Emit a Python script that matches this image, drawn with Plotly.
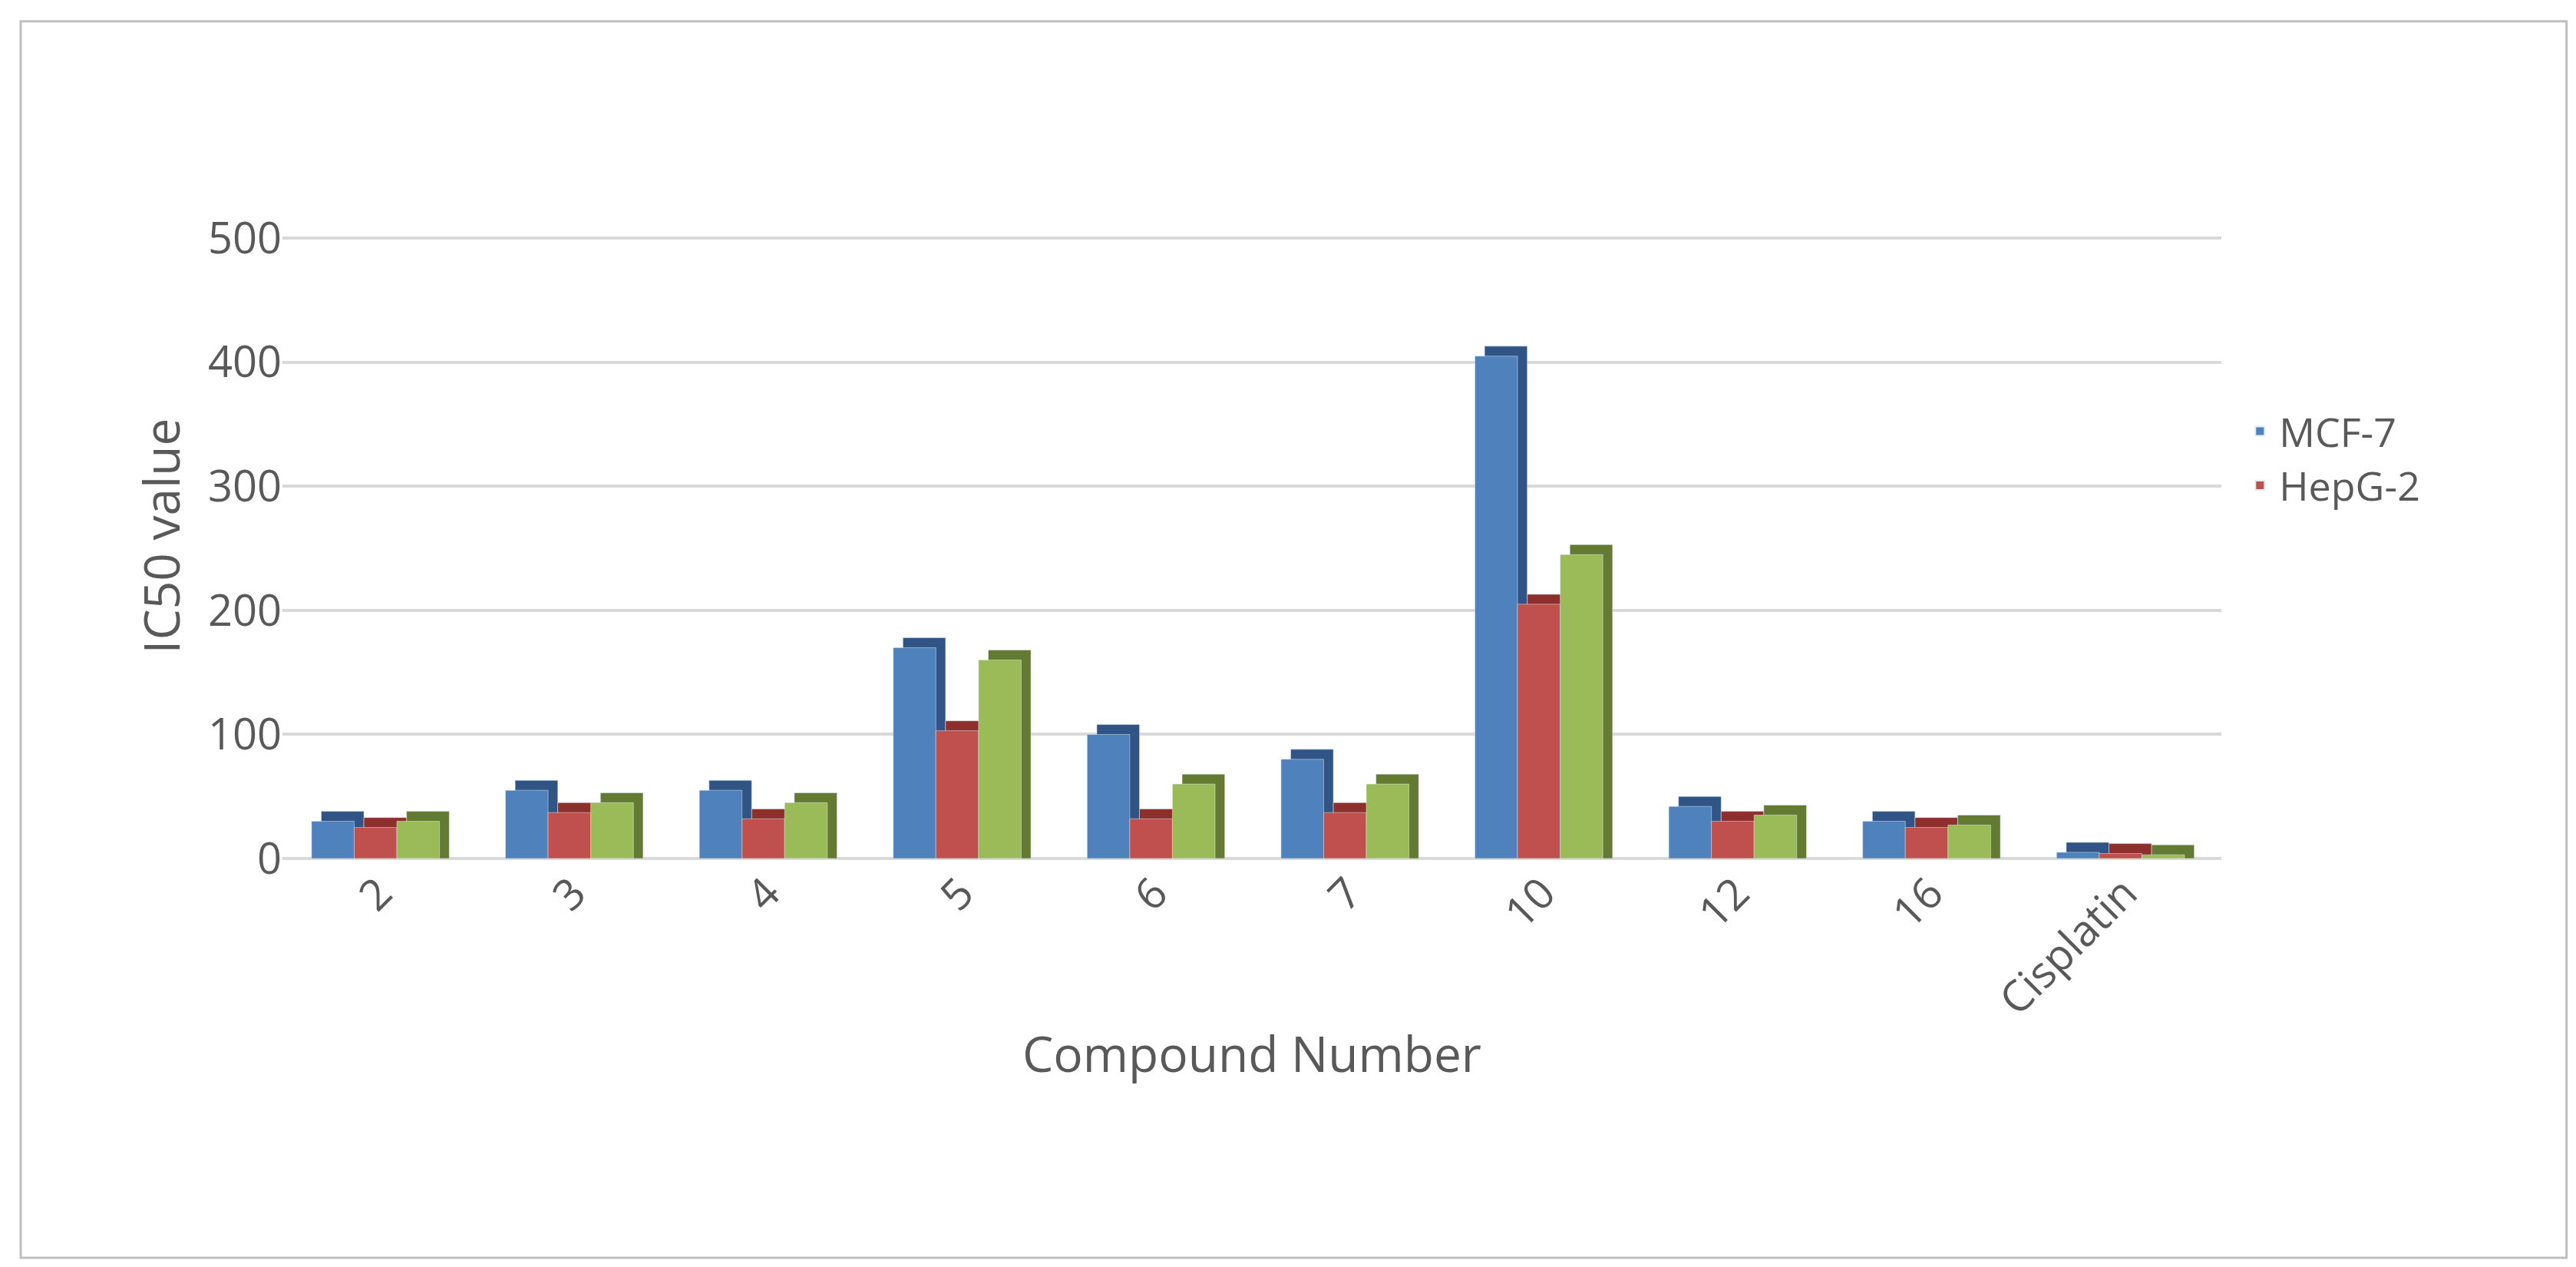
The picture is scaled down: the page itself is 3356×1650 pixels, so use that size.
import plotly.graph_objects as go

compounds = ["2", "3", "4", "5", "6", "7", "10", "12", "16", "Cisplatin"]
mcf7 = [30, 55, 55, 170, 100, 80, 405, 42, 30, 5]
hepg2 = [25, 37, 32, 103, 32, 37, 205, 30, 25, 4]
third = [30, 45, 45, 160, 60, 60, 245, 35, 27, 3]

series = [
    ("MCF-7", mcf7, "#4f81bd", "#2f5485", True),
    ("HepG-2", hepg2, "#c0504d", "#8c2f2d", True),
    ("Series3", third, "#9bbb59", "#637a32", False),
]

x = list(range(len(compounds)))
w = 0.22
offsets = [-0.35, -0.13, 0.09]

fig = go.Figure()
for (name, vals, col, dark, leg), off in zip(series, offsets):
    # darker "depth" bar behind, shifted right and up for a 3D look
    fig.add_trace(go.Bar(x=x, y=[v + 8 for v in vals], offset=off + 0.05, width=w,
                         marker_color=dark, showlegend=False, hoverinfo="skip"))
    fig.add_trace(go.Bar(x=x, y=vals, offset=off, width=w, name=name,
                         marker_color=col, showlegend=leg))

fig.update_layout(
    width=3356, height=1650,
    barmode="overlay",
    paper_bgcolor="white", plot_bgcolor="white",
    font=dict(family="Open Sans, Arial", color="#595959", size=56),
    margin=dict(l=360, r=470, t=270, b=540),
    legend=dict(x=1.01, y=0.62, yanchor="middle", font=dict(size=52),
                itemsizing="constant", tracegroupgap=180, itemwidth=40),
    shapes=[dict(type="rect", xref="paper", yref="paper", x0=-0.135, x1=1.178,
                 y0=-0.619, y1=1.298, line=dict(color="#bfbfbf", width=3))],
)
fig.update_xaxes(tickmode="array", tickvals=x, ticktext=compounds, tickangle=-45,
                 range=[-0.5, 9.5], showline=False, ticks="",
                 title=dict(text="Compound Number", font=dict(size=64)))
fig.update_yaxes(range=[0, 520], dtick=100, gridcolor="#d9d9d9", gridwidth=4,
                 zeroline=True, zerolinecolor="#d9d9d9", zerolinewidth=4,
                 title=dict(text="IC50 value", font=dict(size=64)))

fig.write_html("out.html")
